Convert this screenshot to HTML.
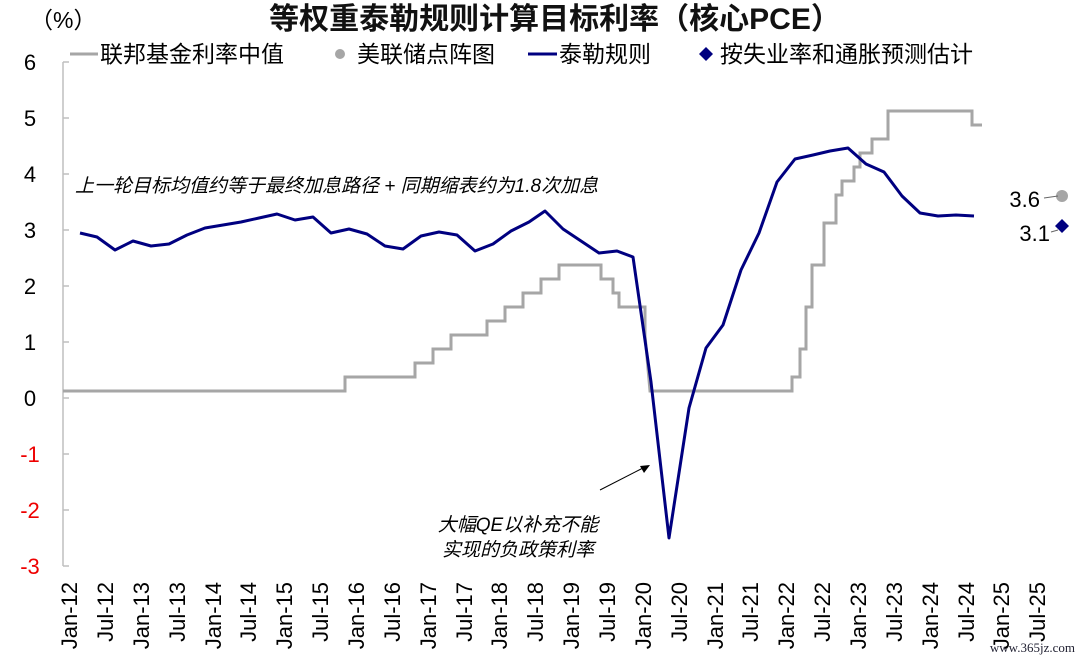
<!DOCTYPE html>
<html><head><meta charset="utf-8"><style>
body{margin:0;background:#fff;}
svg{display:block;font-family:"Liberation Sans","Noto Sans CJK SC",sans-serif;}
</style></head><body>
<svg width="1080" height="662" viewBox="0 0 1080 662">
<text x="30" y="28" font-size="23" fill="#000">（%）</text>
<text x="555" y="29" font-size="30" font-weight="bold" text-anchor="middle" fill="#111">等权重泰勒规则计算目标利率（核心PCE）</text>
<!-- legend -->
<line x1="70" y1="54" x2="98" y2="54" stroke="#a6a6a6" stroke-width="3"/>
<text x="100" y="62" font-size="23">联邦基金利率中值</text>
<circle cx="340" cy="54" r="5" fill="#a6a6a6"/>
<text x="357" y="62" font-size="23">美联储点阵图</text>
<line x1="528" y1="54" x2="557" y2="54" stroke="#000080" stroke-width="3"/>
<text x="559" y="62" font-size="23">泰勒规则</text>
<polygon points="706,47 713,54 706,61 699,54" fill="#000080"/>
<text x="720" y="62" font-size="23">按失业率和通胀预测估计</text>
<!-- y axis -->
<line x1="63" y1="62" x2="63" y2="566" stroke="#bfbfbf" stroke-width="1.5"/>
<g stroke="#bfbfbf" stroke-width="1.5">
<line x1="63" y1="62" x2="69" y2="62"/><line x1="63" y1="118" x2="69" y2="118"/><line x1="63" y1="174" x2="69" y2="174"/><line x1="63" y1="230" x2="69" y2="230"/><line x1="63" y1="286" x2="69" y2="286"/><line x1="63" y1="342" x2="69" y2="342"/><line x1="63" y1="398" x2="69" y2="398"/><line x1="63" y1="454" x2="69" y2="454"/><line x1="63" y1="510" x2="69" y2="510"/><line x1="63" y1="566" x2="69" y2="566"/>
</g>
<g font-size="22" text-anchor="middle">
<text x="30" y="70">6</text><text x="30" y="126">5</text><text x="30" y="182">4</text><text x="30" y="238">3</text><text x="30" y="294">2</text><text x="30" y="350">1</text><text x="30" y="406">0</text>
<text x="30" y="462" fill="#e00">-1</text><text x="30" y="518" fill="#e00">-2</text><text x="30" y="574" fill="#e00">-3</text>
</g>
<!-- fed funds -->
<polyline fill="none" stroke="#a6a6a6" stroke-width="3" points="63,391 345,391 345,377 415,377 415,363 433,363 433,349 451,349 451,335 487,335 487,321 505,321 505,307 523,307 523,293 541,293 541,279 559,279 559,265 601,265 601,279 613,279 613,293 619,293 619,307 645,307 645,335 650,391 792,391 792,377 800,377 800,349 806,349 806,307 812,307 812,265 824,265 824,223 836,223 836,195 842,195 842,181 854,181 854,167 860,167 860,153 872,153 872,139 888,139 888,111 972,111 972,125 982,125"/>
<!-- taylor -->
<polyline fill="none" stroke="#000080" stroke-width="3" stroke-linejoin="round" points="80,233 97,237 115,250 133,241 151,246 169,244 187,235 205,228 223,225 241,222 259,218 277,214 295,220 313,217 331,233 349,229 367,234 385,246 403,249 421,236 439,232 457,235 475,251 493,244 511,231 529,222 545,211 563,229 581,241 599,253 617,251 633,257 651,382 669,538 689,408 706,348 723,325 741,270 759,233 777,182 795,159 813,155 830,151 848,148 866,164 884,172 902,196 920,213 938,216 956,215 974,216"/>
<!-- dots -->
<circle cx="1062" cy="196" r="6" fill="#a6a6a6"/>
<line x1="1044" y1="198" x2="1058" y2="196" stroke="#666" stroke-width="1"/>
<text x="1040" y="207" font-size="22" text-anchor="end">3.6</text>
<polygon points="1062,219 1069,226 1062,233 1055,226" fill="#000080"/>
<text x="1050" y="241" font-size="22" text-anchor="end">3.1</text>
<line x1="1051" y1="232" x2="1058" y2="230" stroke="#666" stroke-width="1"/>
<!-- annotations -->
<text x="75" y="192" font-size="19" font-style="italic">上一轮目标均值约等于最终加息路径 + 同期缩表约为1.8次加息</text>
<text x="518" y="531" font-size="19" font-style="italic" text-anchor="middle">大幅QE以补充不能</text>
<text x="518" y="556" font-size="19" font-style="italic" text-anchor="middle">实现的负政策利率</text>
<line x1="600" y1="490" x2="643" y2="468" stroke="#000" stroke-width="1"/>
<polygon points="650,465 640,466 644,473" fill="#000"/>
<text x="1075" y="652" font-size="13" fill="#223" text-anchor="end" font-family="Liberation Serif,serif">www.365jz.com</text>
<g font-size="22" text-anchor="end">
<text transform="translate(77,582) rotate(-90)">Jan-12</text>
<text transform="translate(113,582) rotate(-90)">Jul-12</text>
<text transform="translate(149,582) rotate(-90)">Jan-13</text>
<text transform="translate(185,582) rotate(-90)">Jul-13</text>
<text transform="translate(221,582) rotate(-90)">Jan-14</text>
<text transform="translate(256,582) rotate(-90)">Jul-14</text>
<text transform="translate(292,582) rotate(-90)">Jan-15</text>
<text transform="translate(328,582) rotate(-90)">Jul-15</text>
<text transform="translate(364,582) rotate(-90)">Jan-16</text>
<text transform="translate(400,582) rotate(-90)">Jul-16</text>
<text transform="translate(436,582) rotate(-90)">Jan-17</text>
<text transform="translate(472,582) rotate(-90)">Jul-17</text>
<text transform="translate(507,582) rotate(-90)">Jan-18</text>
<text transform="translate(543,582) rotate(-90)">Jul-18</text>
<text transform="translate(579,582) rotate(-90)">Jan-19</text>
<text transform="translate(615,582) rotate(-90)">Jul-19</text>
<text transform="translate(651,582) rotate(-90)">Jan-20</text>
<text transform="translate(687,582) rotate(-90)">Jul-20</text>
<text transform="translate(723,582) rotate(-90)">Jan-21</text>
<text transform="translate(758,582) rotate(-90)">Jul-21</text>
<text transform="translate(794,582) rotate(-90)">Jan-22</text>
<text transform="translate(830,582) rotate(-90)">Jul-22</text>
<text transform="translate(866,582) rotate(-90)">Jan-23</text>
<text transform="translate(902,582) rotate(-90)">Jul-23</text>
<text transform="translate(938,582) rotate(-90)">Jan-24</text>
<text transform="translate(974,582) rotate(-90)">Jul-24</text>
<text transform="translate(1009,582) rotate(-90)">Jan-25</text>
<text transform="translate(1045,582) rotate(-90)">Jul-25</text>
</g>
</svg>
</body></html>
